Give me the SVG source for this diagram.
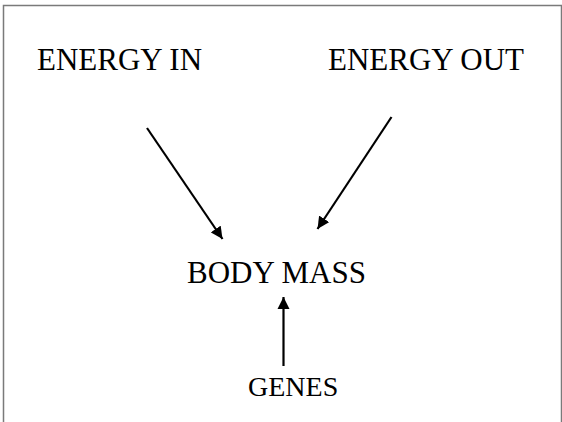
<svg xmlns="http://www.w3.org/2000/svg" width="562" height="422" viewBox="0 0 562 422">
<style>
text{font-family:"Liberation Serif","Times New Roman",serif;font-size:31px;fill:#000}
.c{stroke:#000;stroke-width:2.2;fill:none}
</style>
<defs>
<marker id="ah" viewBox="0 0 10 10" refX="10" refY="5" markerWidth="5.5" markerHeight="5.5" orient="auto" markerUnits="strokeWidth">
<path d="M0,0 L10,5 L0,10 z" fill="#000"/>
</marker>
</defs>
<rect width="562" height="422" fill="#fff"/>
<path d="M3.5,422 V5.5 H561.5 V422" stroke="#7a7a7a" stroke-width="1.5" fill="none"/>
<g id="energy-in"><text x="37" y="70">ENERGY IN</text></g>
<g id="energy-out"><text x="328" y="70">ENERGY OUT</text></g>
<g id="body-mass"><text x="187" y="283">BODY MASS</text></g>
<g id="genes"><text x="248" y="396" style="font-size:28px">GENES</text></g>
<g id="connectors">
<line class="c" x1="147" y1="128" x2="222.5" y2="239" marker-end="url(#ah)"/>
<line class="c" x1="391.5" y1="117" x2="317.5" y2="229" marker-end="url(#ah)"/>
<line class="c" x1="283.5" y1="366" x2="283.5" y2="297" marker-end="url(#ah)"/>
</g>
</svg>
